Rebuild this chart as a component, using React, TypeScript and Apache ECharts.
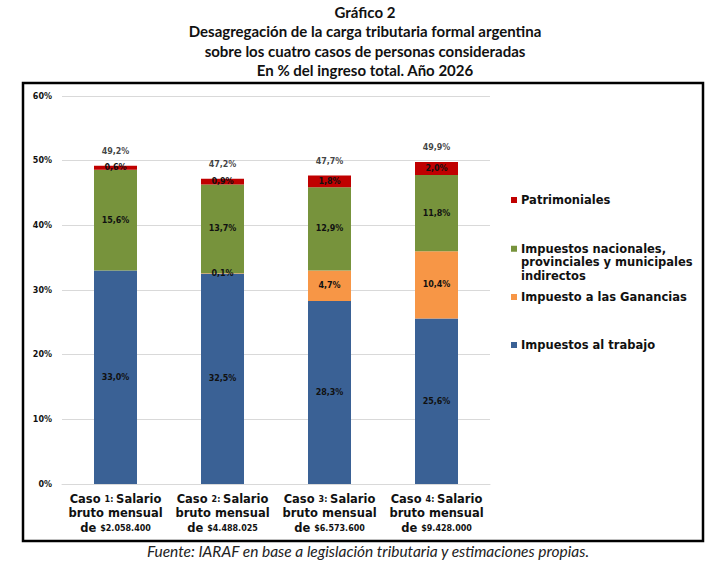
import React from 'react';
import { useEffect, useRef } from 'react';
import * as echarts from 'echarts';

// Datos del gráfico (% del ingreso total)
const casos = ['Caso 1', 'Caso 2', 'Caso 3', 'Caso 4'];
const montos = ['$2.058.400', '$4.488.025', '$6.573.600', '$9.428.000'];
const trabajo = [33.0, 32.5, 28.3, 25.6];
const ganancias = [0, 0.1, 4.7, 10.4];
const nacionales = [15.6, 13.7, 12.9, 11.8];
const patrimoniales = [0.6, 0.9, 1.8, 2.0];
const totales = [49.2, 47.2, 47.7, 49.9];
const yTicks = [0, 10, 20, 30, 40, 50, 60];

const nombres = {
  trabajo: 'Impuestos al trabajo',
  ganancias: 'Impuesto a las Ganancias',
  nacionales: 'Impuestos nacionales, provinciales y municipales indirectos',
  patrimoniales: 'Patrimoniales',
};

const colores = {
  trabajo: '#3A6195',
  ganancias: '#F79646',
  nacionales: '#77933C',
  patrimoniales: '#C00000',
};

const FONT = '"DejaVu Sans", sans-serif';

const pct = (v: number) => v.toFixed(1).replace('.', ',') + '%';

const App: React.FC = () => {
  const chartRef = useRef<HTMLDivElement>(null);

  useEffect(() => {
    if (!chartRef.current) return;
    const chart = echarts.init(chartRef.current, undefined, { renderer: 'svg' });

    const barLabel = {
      show: true,
      position: 'inside',
      color: '#111',
      fontFamily: FONT,
      fontWeight: 'bold',
      fontSize: 8,
      formatter: (p: any) => (p.value > 0 ? pct(p.value) : ''),
    };

    const legendItem = (name: string, color: string, top: number, lines?: string[]) => ({
      data: [name],
      left: 506,
      top,
      padding: 0,
      orient: 'vertical',
      icon: 'none',
      itemWidth: 0,
      selectedMode: false,
      formatter: () => {
        const ls = lines || [name];
        return ls
          .map((l, i) => (i === 0 ? `{sq|}{g|}{t|${l}}` : `{p|}{t|${l}}`))
          .join('\n');
      },
      textStyle: {
        fontFamily: FONT,
        fontWeight: 'bold',
        fontSize: 11.5,
        color: '#111',
        lineHeight: 13.5,
        rich: {
          sq: { width: 6, height: 6, backgroundColor: color },
          g: { width: 4 },
          p: { width: 10 },
          t: { fontFamily: FONT, fontWeight: 'bold', fontSize: 11.5, color: '#111', lineHeight: 13.5 },
        },
      },
    });

    const option = {
      animation: false,
      title: {
        text:
          'Gráfico 2\nDesagregación de la carga tributaria formal argentina\nsobre los cuatro casos de personas consideradas\nEn % del ingreso total. Año 2026',
        left: 365,
        top: 2,
        textAlign: 'center',
        padding: 0,
        textStyle: {
          fontFamily: 'Lato, sans-serif',
          fontWeight: 'bold',
          fontSize: 15,
          lineHeight: 19.5,
          color: '#111',
        },
      },
      graphic: [
        {
          type: 'rect',
          shape: { x: 23, y: 83, width: 680, height: 458 },
          style: { fill: 'none', stroke: '#000', lineWidth: 2.5 },
          silent: true,
        },
        {
          type: 'text',
          x: 368,
          y: 551,
          style: {
            text: 'Fuente: IARAF en base a legislación tributaria y estimaciones propias.',
            fontFamily: 'Lato, sans-serif',
            fontStyle: 'italic',
            fontSize: 15.5,
            fill: '#222',
            textAlign: 'center',
            textVerticalAlign: 'middle',
          },
        },
      ],
      legend: [
        legendItem(nombres.patrimoniales, colores.patrimoniales, 193),
        legendItem(nombres.nacionales, colores.nacionales, 242, [
          'Impuestos nacionales,',
          'provinciales y municipales',
          'indirectos',
        ]),
        legendItem(nombres.ganancias, colores.ganancias, 290),
        legendItem(nombres.trabajo, colores.trabajo, 338),
      ],
      grid: { left: 62, right: 232, top: 96, bottom: 78 },
      xAxis: {
        type: 'category',
        data: casos,
        axisTick: { show: false },
        axisLine: { lineStyle: { color: '#d9d9d9' } },
        axisLabel: {
          margin: 6,
          interval: 0,
          formatter: (_v: string, i: number) =>
            `{b|Caso }{s|${i + 1}: }{b|Salario}\n{b|bruto mensual}\n{b|de }{s|${montos[i]}}`,
          rich: {
            b: { fontFamily: FONT, fontWeight: 'bold', fontSize: 11.5, color: '#111', lineHeight: 14.5, verticalAlign: 'bottom' },
            s: { fontFamily: FONT, fontWeight: 'bold', fontSize: 8, color: '#111', lineHeight: 14.5, verticalAlign: 'bottom', padding: [0, 0, 1, 0] },
          },
        },
      },
      yAxis: {
        type: 'value',
        min: yTicks[0],
        max: yTicks[yTicks.length - 1],
        interval: 10,
        axisLine: { show: false },
        axisTick: { show: false },
        splitLine: { lineStyle: { color: '#d9d9d9' } },
        axisLabel: {
          margin: 10,
          formatter: '{value}%',
          fontFamily: FONT,
          fontWeight: 'bold',
          fontSize: 8,
          color: '#111',
        },
      },
      series: [
        {
          name: nombres.trabajo,
          type: 'bar',
          stack: 'total',
          barWidth: 43,
          data: trabajo,
          itemStyle: { color: colores.trabajo },
          label: barLabel,
        },
        {
          name: nombres.ganancias,
          type: 'bar',
          stack: 'total',
          data: ganancias,
          itemStyle: { color: colores.ganancias },
          label: barLabel,
        },
        {
          name: nombres.nacionales,
          type: 'bar',
          stack: 'total',
          data: nacionales,
          itemStyle: { color: colores.nacionales },
          label: barLabel,
        },
        {
          name: nombres.patrimoniales,
          type: 'bar',
          stack: 'total',
          data: patrimoniales,
          itemStyle: { color: colores.patrimoniales },
          label: barLabel,
        },
        {
          name: 'Total',
          type: 'scatter',
          symbolSize: 0,
          data: totales,
          silent: true,
          label: {
            show: true,
            position: 'top',
            distance: 10,
            color: '#111',
            fontFamily: FONT,
            fontWeight: 'bold',
            fontSize: 8,
            formatter: (p: any) => pct(p.value),
          },
        },
      ],
    };

    chart.setOption(option as any);

    return () => {
      chart.dispose();
    };
  }, []);

  return (
    <div
      ref={chartRef}
      style={{ position: 'absolute', left: 0, top: 0, width: 722, height: 562, background: '#fff' }}
    />
  );
};

export default App;
